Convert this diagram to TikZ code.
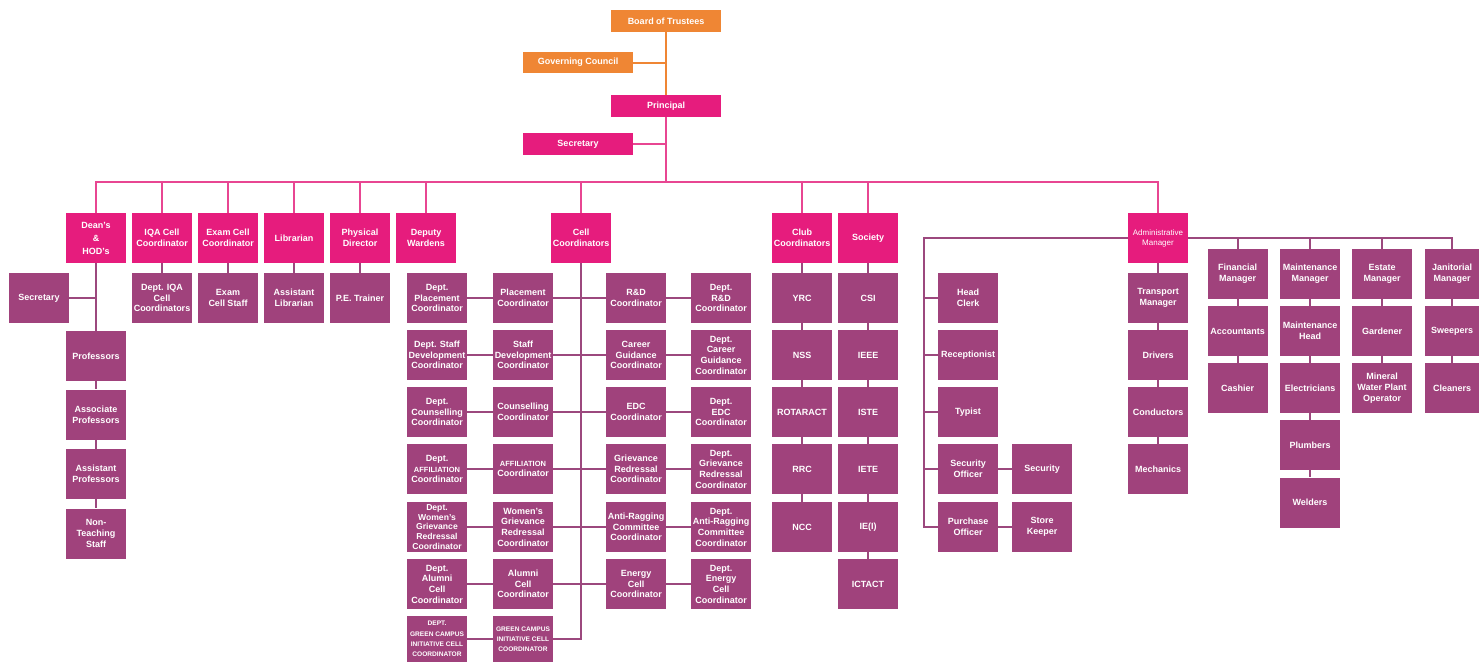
\documentclass[tikz,border=0pt]{standalone}
\usepackage{fontspec}
\setmainfont{Liberation Sans}
\definecolor{orng}{RGB}{239,134,52}
\definecolor{pnk}{RGB}{230,28,125}
\definecolor{prp}{RGB}{160,66,124}
\definecolor{pnkline}{RGB}{232,70,146}
\definecolor{prpline}{RGB}{156,72,126}
\tikzset{
 bx/.style={rectangle, inner sep=0pt, minimum width=60pt, minimum height=50pt, align=center, text=white, font=\fontsize{9}{10.7}\selectfont\bfseries},
 tbox/.style={bx, fill=pnk},
 sbox/.style={bx, fill=prp},
 wbox/.style={bx, minimum width=110pt, minimum height=22pt},
 pl/.style={draw=pnkline, line width=2pt},
 sl/.style={draw=prpline, line width=2pt},
 ol/.style={draw=orng, line width=2pt},
 gc/.style={sbox, minimum height=46pt, font=\fontsize{6.6}{10.2}\selectfont\bfseries},
}
\begin{document}
\begin{tikzpicture}[x=1pt,y=-1pt]
\useasboundingbox (0,0) rectangle (1479,662);
% top
\node[wbox, fill=orng] (bot) at (666,21) {Board of Trustees};
\node[wbox, fill=orng, minimum height=21pt] (gov) at (578,62.5) {Governing Council};
\node[wbox, fill=pnk] (prin) at (666,106) {Principal};
\node[wbox, fill=pnk] (sec) at (578,144) {Secretary};
\coordinate (bus) at (666,182);
\coordinate (busL) at (96,182);
\coordinate (busR) at (1158,182);
% tier 1
\node[tbox, font=\fontsize{9}{13}\selectfont\bfseries] (deans) at (96,238) {Dean's\\\&\\HOD's};
\node[tbox] (iqa) at (162,238) {IQA Cell\\Coordinator};
\node[tbox] (exam) at (228,238) {Exam Cell\\Coordinator};
\node[tbox] (lib) at (294,238) {Librarian};
\node[tbox] (pd) at (360,238) {Physical\\Director};
\node[tbox] (dw) at (426,238) {Deputy\\Wardens};
\node[tbox] (cell) at (581,238) {Cell\\Coordinators};
\node[tbox] (club) at (802,238) {Club\\Coordinators};
\node[tbox] (soc) at (868,238) {Society};
\node[tbox, font=\fontsize{8}{10}\selectfont] (admin) at (1158,238) {Administrative\\Manager};
% dean's group
\node[sbox] (dsec) at (39,298) {Secretary};
\node[sbox] (prof) at (96,356) {Professors};
\node[sbox] (assoc) at (96,414.5) {Associate\\Professors};
\node[sbox] (asst) at (96,474) {Assistant\\Professors};
\node[sbox] (nonteach) at (96,533.5) {Non-\\Teaching\\Staff};
\node[sbox] (iqasub) at (162,298) {Dept. IQA\\Cell\\Coordinators};
\node[sbox] (examsub) at (228,298) {Exam\\Cell Staff};
\node[sbox] (libsub) at (294,298) {Assistant\\Librarian};
\node[sbox] (pdsub) at (360,298) {P.E. Trainer};
% cell coordinators
\node[sbox] (dl1) at (437,298) {Dept.\\Placement\\Coordinator};
\node[sbox] (cl1) at (523,298) {Placement\\Coordinator};
\node[sbox] (cr1) at (636,298) {R\&D\\Coordinator};
\node[sbox] (dr1) at (721,298) {Dept.\\R\&D\\Coordinator};
\node[sbox] (dl2) at (437,355) {Dept. Staff\\Development\\Coordinator};
\node[sbox] (cl2) at (523,355) {Staff\\Development\\Coordinator};
\node[sbox] (cr2) at (636,355) {Career\\Guidance\\Coordinator};
\node[sbox] (dr2) at (721,355) {Dept.\\Career\\Guidance\\Coordinator};
\node[sbox] (dl3) at (437,412) {Dept.\\Counselling\\Coordinator};
\node[sbox] (cl3) at (523,412) {Counselling\\Coordinator};
\node[sbox] (cr3) at (636,412) {EDC\\Coordinator};
\node[sbox] (dr3) at (721,412) {Dept.\\EDC\\Coordinator};
\node[sbox] (dl4) at (437,469) {Dept.\\{\fontsize{7.5}{10.7}\selectfont AFFILIATION}\\Coordinator};
\node[sbox] (cl4) at (523,469) {{\fontsize{7.5}{10.7}\selectfont AFFILIATION}\\Coordinator};
\node[sbox] (cr4) at (636,469) {Grievance\\Redressal\\Coordinator};
\node[sbox] (dr4) at (721,469) {Dept.\\Grievance\\Redressal\\Coordinator};
\node[sbox, font=\fontsize{8.6}{9.8}\selectfont\bfseries] (dl5) at (437,527) {Dept.\\Women's\\Grievance\\Redressal\\Coordinator};
\node[sbox] (cl5) at (523,527) {Women's\\Grievance\\Redressal\\Coordinator};
\node[sbox] (cr5) at (636,527) {Anti-Ragging\\Committee\\Coordinator};
\node[sbox] (dr5) at (721,527) {Dept.\\Anti-Ragging\\Committee\\Coordinator};
\node[sbox] (dl6) at (437,584) {Dept.\\Alumni\\Cell\\Coordinator};
\node[sbox] (cl6) at (523,584) {Alumni\\Cell\\Coordinator};
\node[sbox] (cr6) at (636,584) {Energy\\Cell\\Coordinator};
\node[sbox] (dr6) at (721,584) {Dept.\\Energy\\Cell\\Coordinator};
\node[gc] (dl7) at (437,639) {DEPT.\\GREEN CAMPUS\\INITIATIVE CELL\\COORDINATOR};
\node[gc] (cl7) at (523,639) {GREEN CAMPUS\\INITIATIVE CELL\\COORDINATOR};
% clubs
\node[sbox] (yrc) at (802,298) {YRC};
\node[sbox] (nss) at (802,355) {NSS};
\node[sbox] (rot) at (802,412) {ROTARACT};
\node[sbox] (rrc) at (802,469) {RRC};
\node[sbox] (ncc) at (802,527) {NCC};
% society
\node[sbox] (csi) at (868,298) {CSI};
\node[sbox] (ieee) at (868,355) {IEEE};
\node[sbox] (iste) at (868,412) {ISTE};
\node[sbox] (iete) at (868,469) {IETE};
\node[sbox] (iei) at (868,527) {IE(I)};
\node[sbox] (ict) at (868,584) {ICTACT};
% admin left
\coordinate (adL) at (924,238);
\node[sbox] (hc) at (968,298) {Head\\Clerk};
\node[sbox] (rec) at (968,355) {Receptionist};
\node[sbox] (typ) at (968,412) {Typist};
\node[sbox] (so) at (968,469) {Security\\Officer};
\node[sbox] (po) at (968,527) {Purchase\\Officer};
\node[sbox] (secu) at (1042,469) {Security};
\node[sbox] (sk) at (1042,527) {Store\\Keeper};
% admin column
\node[sbox] (tm) at (1158,298) {Transport\\Manager};
\node[sbox] (drv) at (1158,355) {Drivers};
\node[sbox] (cond) at (1158,412) {Conductors};
\node[sbox] (mech) at (1158,469) {Mechanics};
% admin right
\coordinate (adR) at (1452,238);
\node[sbox] (fin) at (1237.5,274) {Financial\\Manager};
\node[sbox] (acc) at (1237.5,331) {Accountants};
\node[sbox] (cash) at (1237.5,388) {Cashier};
\node[sbox] (mm) at (1310,274) {Maintenance\\Manager};
\node[sbox] (mh) at (1310,331) {Maintenance\\Head};
\node[sbox] (elec) at (1310,388) {Electricians};
\node[sbox] (plum) at (1310,445) {Plumbers};
\node[sbox] (weld) at (1310,502.5) {Welders};
\node[sbox] (em) at (1382,274) {Estate\\Manager};
\node[sbox] (gard) at (1382,331) {Gardener};
\node[sbox] (mwp) at (1382,388) {Mineral\\Water Plant\\Operator};
\node[sbox, minimum width=54pt] (jm) at (1452,274) {Janitorial\\Manager};
\node[sbox, minimum width=54pt] (swp) at (1452,331) {Sweepers};
\node[sbox, minimum width=54pt] (cln) at (1452,388) {Cleaners};
% ---------- connectors ----------
\draw[ol] (bot) -- (prin);
\draw[ol] (gov.east) -- (gov.east -| bot.south);
\draw[pl] (prin) -- (bus);
\draw[pl] (sec.east) -- (sec.east -| prin.south);
\draw[pl] (deans) -- (busL) -- (busR) -- (admin);
\foreach \n in {iqa,exam,lib,pd,dw,cell,club,soc}
  \draw[pl] (\n.north) -- (\n.north |- bus);
% dean's
\draw[sl] (deans) -- (prof) -- (assoc) -- (asst) -- (nonteach);
\draw[sl] (dsec.east) -- (dsec.east -| deans.south);
\draw[sl] (iqa) -- (iqasub);
\draw[sl] (exam) -- (examsub);
\draw[sl] (lib) -- (libsub);
\draw[sl] (pd) -- (pdsub);
% cells
\draw[sl] (cell.south) |- (cl7.east);
\foreach \i in {1,...,6}{
  \draw[sl] (dl\i) -- (cl\i);
  \draw[sl] (cl\i.east) -- (cl\i.east -| cell.south);
  \draw[sl] (cr\i.west) -- (cr\i.west -| cell.south);
  \draw[sl] (cr\i) -- (dr\i);
}
\draw[sl] (dl7) -- (cl7);
% clubs, society
\draw[sl] (club) -- (yrc) -- (nss) -- (rot) -- (rrc) -- (ncc);
\draw[sl] (soc) -- (csi) -- (ieee) -- (iste) -- (iete) -- (iei) -- (ict);
% admin
\draw[sl] (admin) -- (tm) -- (drv) -- (cond) -- (mech);
\draw[sl] (admin.west) -- (adL) |- (po.west);
\foreach \n in {hc,rec,typ,so}
  \draw[sl] (\n.west) -- (\n.west -| adL);
\draw[sl] (so) -- (secu);
\draw[sl] (po) -- (sk);
\draw[sl] (admin.east) -- (adR) -- (jm);
\foreach \n in {fin,mm,em}
  \draw[sl] (\n.north) -- (\n.north |- adR);
\draw[sl] (fin) -- (acc) -- (cash);
\draw[sl] (mm) -- (mh) -- (elec) -- (plum) -- (weld);
\draw[sl] (em) -- (gard) -- (mwp);
\draw[sl] (jm) -- (swp) -- (cln);
\end{tikzpicture}
\end{document}
